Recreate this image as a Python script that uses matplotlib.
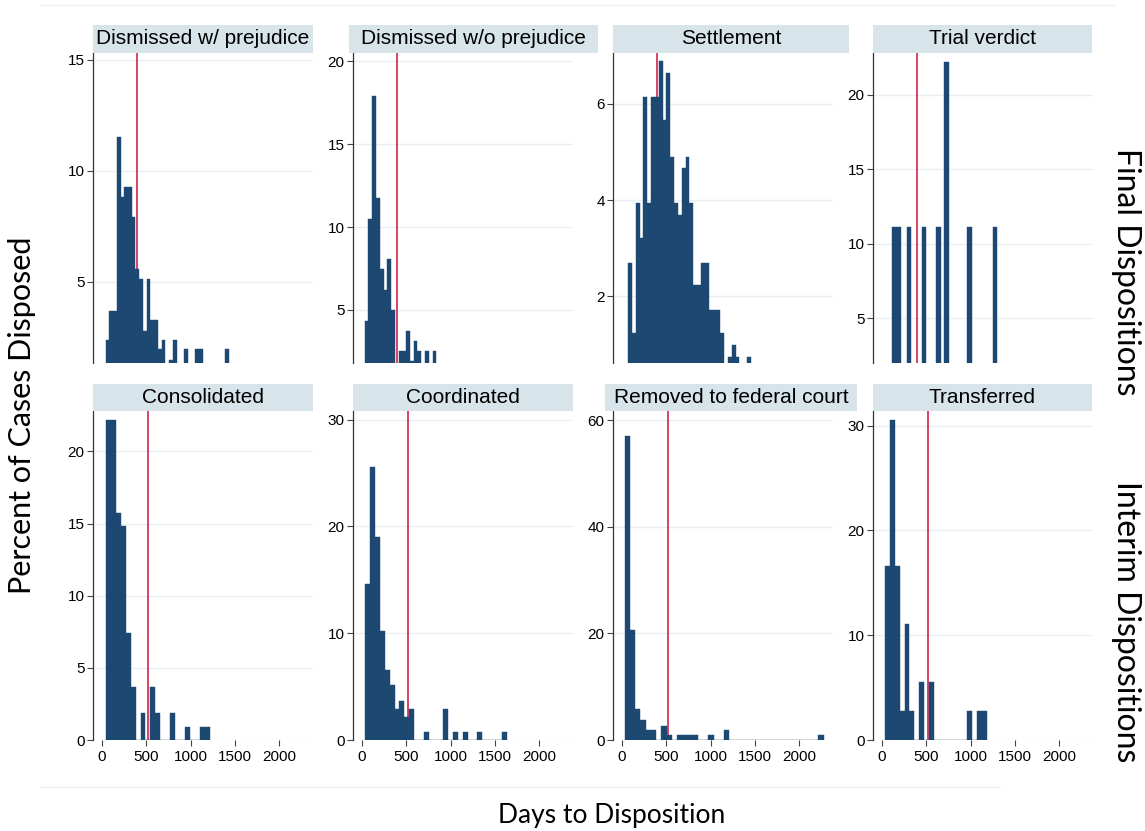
import numpy as np
import matplotlib.pyplot as plt
from matplotlib.patches import Rectangle
from matplotlib.lines import Line2D

# percent of cases per bin (days to disposition)
titles = ["Dismissed w/ prejudice", "Dismissed w/o prejudice", "Settlement", "Trial verdict",
          "Consolidated", "Coordinated", "Removed to federal court", "Transferred"]

bin_start = [42, 32, 69, None, 46, 39, 32, 38]
bin_width = [42.1, 42.5, 43.3, 50, 55.7, 54.9, 59, 54.5]

dwp = [2.4, 3.7, 3.7, 11.5, 8.8, 9.25, 9.25, 7.9, 5.6, 5.15, 2.8, 5.15, 3.3, 3.3, 2.0, 2.4,
       0, 1.5, 2.4, 0, 0, 2.0, 0, 0, 2.0, 2.0, 0, 0, 0, 0, 0, 0, 2.0]
dwop = [4.35, 10.5, 17.9, 11.75, 7.45, 6.2, 8.05, 5.0, 1.2, 2.5, 2.5, 3.75, 1.9, 3.15, 2.5,
        0, 2.5, 0, 2.5]
settle = [2.7, 1.25, 3.94, 3.21, 6.14, 3.94, 6.14, 6.14, 6.88, 5.67, 6.64, 4.9, 3.94, 3.7,
          4.66, 4.9, 3.94, 2.23, 2.23, 2.7, 2.7, 1.72, 1.72, 1.72, 1.24, 0.5, 0.75, 1.0,
          0.75, 0.5, 0, 0.75]
trial_days = [112, 162, 283, 452, 614, 704, 962, 1252]
trial = [11.1, 11.1, 11.1, 11.1, 11.1, 22.2, 11.1, 11.1]
consol = [22.2, 22.2, 15.7, 14.8, 7.4, 3.7, 0, 1.85, 0, 3.7, 1.85, 0, 0, 1.85, 0, 0, 0.93,
          0, 0, 0.93, 0.93]
coord = [14.6, 25.6, 19.0, 10.25, 6.56, 5.16, 2.9, 3.66, 2.2, 2.9, 0, 0, 0.73, 0, 0, 0, 2.9,
         0, 0.73, 0, 0.73, 0, 0, 0.73, 0, 0, 0, 0, 0.73]
removed = [57.0, 20.6, 5.8, 3.7, 1.8, 1.8, 0, 2.7, 0.9, 0, 0.9, 0.9, 0.9, 0.9, 0, 0, 0.9, 0,
           0, 1.8] + [0] * 17 + [0.9]
transf = [16.6, 30.5, 16.6, 2.8, 11.1, 2.8, 0, 5.55, 0, 5.55, 0, 0, 0, 0, 0, 0, 0, 2.8, 0,
          2.8, 2.8]
heights = [dwp, dwop, settle, trial, consol, coord, removed, transf]

mean_days = [395, 525]  # red reference line, final / interim
yticks = [[5, 10, 15], [5, 10, 15, 20], [2, 4, 6], [5, 10, 15, 20],
          [0, 5, 10, 15, 20], [0, 10, 20, 30], [0, 20, 40, 60], [0, 10, 20, 30]]
ylims = [(1.35, 15.3), (1.8, 20.5), (0.62, 7.05), (2.0, 22.8),
         (0, 22.8), (0, 30.8), (0, 61.7), (0, 31.4)]
xticks = [0, 500, 1000, 1500, 2000]

W, H = 1145, 831
fig = plt.figure(figsize=(W / 100, H / 100), dpi=100)
fig.patch.set_facecolor("white")

def fx(p):
    return p / W

def fy(p):
    return 1 - p / H

col_left = [93, 353, 613, 873]
row_top = [53, 411]
row_bot = [363, 740]
strips = [(93, 313), (349, 598), (613, 849), (873, 1092),
          (93, 313), (353, 573), (605, 857), (873, 1092)]
strip_h = [(25, 53), (384, 411)]

navy = "#1d4872"
red = "#d0103a"
grid_c = "#e8f0f2"

for i in range(8):
    r, c = divmod(i, 4)
    ax = fig.add_axes([fx(col_left[c]), fy(row_bot[r]), 220 / W, (row_bot[r] - row_top[r]) / H])
    h = np.array(heights[i])
    if i == 3:
        left = np.array(trial_days)
    else:
        left = bin_start[i] + bin_width[i] * np.arange(len(h))
    ax.bar(left, h, width=bin_width[i], align="edge", color=navy,
           edgecolor=navy, linewidth=0.3, zorder=3)
    ax.axvline(mean_days[r], color=red, lw=1.1, zorder=2)
    ax.set_xlim(-100, 2380)
    ax.set_ylim(*ylims[i])
    ax.set_yticks(yticks[i])
    ax.set_yticklabels([str(t) for t in yticks[i]], family="Liberation Sans", fontsize=11)
    for t in yticks[i]:
        ax.axhline(t, color=grid_c, lw=1, zorder=1)
    ax.tick_params(axis="y", length=4, width=0.8, color="#444444", pad=2)
    for s in ["top", "right", "bottom"]:
        ax.spines[s].set_visible(False)
    ax.spines["left"].set_color("#333333")
    ax.spines["left"].set_linewidth(0.9)
    if r == 0:
        ax.set_xticks([])
    else:
        ax.set_xticks(xticks)
        ax.set_xticklabels([str(t) for t in xticks], family="Liberation Sans", fontsize=11)
        ax.tick_params(axis="x", length=4, width=0.8, color="#444444", pad=3)
    # title strip
    x0, x1 = strips[i]
    y0, y1 = strip_h[r]
    fig.patches.append(Rectangle((fx(x0), fy(y1)), (x1 - x0) / W, (y1 - y0) / H,
                                 transform=fig.transFigure, facecolor="#d7e4ea",
                                 edgecolor="none"))
    fig.text(fx((x0 + x1) / 2), fy((y0 + y1) / 2), titles[i], ha="center", va="center",
             family="Liberation Sans", fontsize=15)

fig.text(fx(22), fy(415), "Percent of Cases Disposed", rotation=90, ha="center",
         va="center", family="Lato", fontsize=22)
fig.text(fx(612), fy(815), "Days to Disposition", ha="center", va="center",
         family="Lato", fontsize=19)
fig.text(fx(1126), fy(272), "Final Dispositions", rotation=270, ha="center",
         va="center", family="Lato", fontsize=23)
fig.text(fx(1126), fy(622), "Interim Dispositions", rotation=270, ha="center",
         va="center", family="Lato", fontsize=23)

fig.add_artist(Line2D([fx(40), fx(1115)], [fy(5), fy(5)], color="#f0f0f0", lw=1))
fig.add_artist(Line2D([fx(40), fx(1000)], [fy(787), fy(787)], color="#f0f0f0", lw=1))

fig.savefig("out.png", dpi=100, facecolor="white")
